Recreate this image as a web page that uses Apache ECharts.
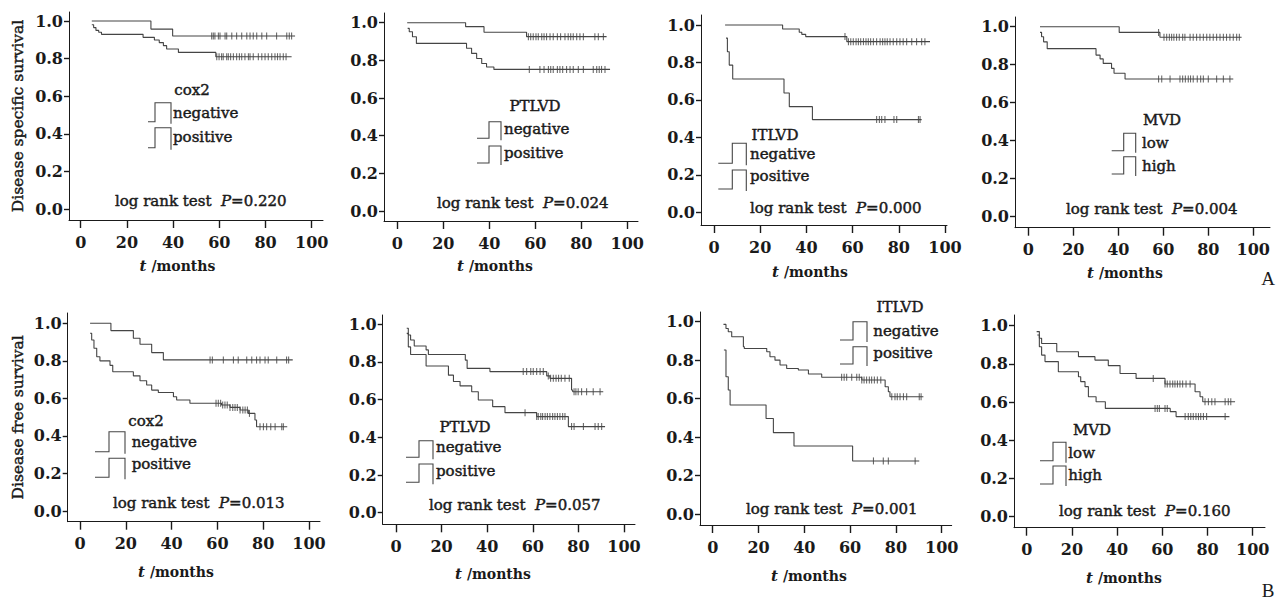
<!DOCTYPE html>
<html><head><meta charset="utf-8">
<script src="https://cdn.jsdelivr.net/npm/echarts@6/dist/echarts.min.js"></script>
<style>html,body{margin:0;padding:0;background:#fff}#c{width:1285px;height:601px}</style>
</head><body><div id="c"></div>
<script>
// ---------- DATA ----------
const xTicks = [0, 20, 40, 60, 80, 100];
const yTicks = [0.0, 0.2, 0.4, 0.6, 0.8, 1.0];
const yAxisNames = ['Disease specific survival', 'Disease free survival'];
const xAxisName = 'months';
const factors = ['cox2', 'PTLVD', 'ITLVD', 'MVD', 'cox2', 'PTLVD', 'ITLVD', 'MVD'];
const groupNames = [
  ['negative', 'positive'], ['negative', 'positive'], ['negative', 'positive'], ['low', 'high'],
  ['negative', 'positive'], ['negative', 'positive'], ['negative', 'positive'], ['low', 'high']
];
const pValues = ['0.220', '0.024', '0.000', '0.004', '0.013', '0.057', '0.001', '0.160'];
const panelLetters = ['A', 'B'];

// Kaplan-Meier curves: [month, survival] at each step, last point = end of follow-up
const dssCox2Neg = [[4.8,1.0],[30.4,0.957],[39.8,0.92],[92.8,0.92]];
const dssCox2NegCens = [56.7,57.4,58.1,59.6,60.3,62.5,63.2,65.4,67.5,69.7,71.9,73.3,74.7,76.2,78.4,80.5,84.8,89.2,90.3,91.3];
const dssCox2Pos = [[4.8,0.98],[5.6,0.965],[6.6,0.95],[7.8,0.94],[9.0,0.929],[27.0,0.913],[31.9,0.899],[34.0,0.885],[35.8,0.869],[37.2,0.851],[42.3,0.833],[58.5,0.81],[91.3,0.81]];
const dssCox2PosCens = [58.9,59.9,61.0,61.7,63.2,63.9,64.9,66.1,67.5,68.7,69.7,71.1,72.6,73.3,74.7,76.9,78.4,79.8,81.2,82.7,84.1,85.2,86.3,87.7,88.9];

const dssPtlvdNeg = [[4.3,1.0],[29.7,0.979],[37.7,0.949],[56.2,0.926],[91.0,0.926]];
const dssPtlvdNegCens = [57.0,58.0,59.1,60.3,61.3,62.8,63.8,64.9,66.4,67.8,69.6,71.0,72.9,74.3,75.4,76.5,78.0,79.4,80.9,85.9,87.4,89.6];
const dssPtlvdPos = [[4.5,0.97],[5.2,0.952],[6.6,0.925],[8.3,0.89],[30.1,0.864],[32.3,0.837],[34.5,0.81],[36.7,0.783],[38.8,0.765],[42.0,0.752],[92.5,0.752]];
const dssPtlvdPosCens = [57.4,62.0,63.8,65.7,66.7,67.8,69.6,70.7,71.9,73.6,75.1,76.5,78.7,80.9,85.2,86.7,87.8,88.8,90.3];

const dssItlvdNeg = [[4.8,1.0],[29.7,0.979],[36.9,0.961],[38.0,0.95],[39.7,0.938],[57.5,0.911],[93.5,0.911]];
const dssItlvdNegCens = [56.7,58.2,59.2,60.3,61.5,62.5,63.5,64.7,65.8,66.8,67.8,69.0,70.4,71.9,73.0,74.0,75.0,76.2,77.6,79.1,80.5,81.9,83.4,85.6,87.7,89.9,91.3];
const dssItlvdPos = [[5.2,0.93],[5.8,0.857],[6.6,0.786],[8.1,0.712],[30.3,0.637],[32.6,0.564],[42.6,0.495],[89.9,0.495]];
const dssItlvdPosCens = [70.4,71.6,72.6,74.0,77.9,79.1,88.5,89.2];

const dssMvdLow = [[5.2,1.0],[40.4,0.97],[58.5,0.944],[94.8,0.944]];
const dssMvdLowCens = [57.9,60.3,61.5,62.7,63.7,64.7,65.9,67.1,68.6,69.6,71.9,73.3,74.8,76.3,77.8,79.3,80.7,82.2,83.7,85.2,86.7,88.1,89.6,91.1,92.6,93.8];
const dssMvdHigh = [[5.2,0.97],[5.9,0.947],[6.8,0.92],[8.4,0.884],[30.1,0.85],[31.9,0.83],[33.3,0.806],[37.0,0.78],[38.1,0.754],[43.0,0.724],[91.1,0.724]];
const dssMvdHighCens = [57.9,59.3,63.0,67.4,68.6,69.8,71.1,72.1,73.3,75.1,76.6,77.8,80.0,83.7,86.7,89.6];

const dfsCox2Neg = [[4.4,1.0],[13.5,0.961],[23.3,0.92],[26.2,0.888],[31.3,0.844],[36.4,0.805],[92.9,0.805]];
const dfsCox2NegCens = [56.8,57.8,62.6,67.0,69.1,72.8,75.0,77.1,78.6,80.8,82.2,85.9,90.2,91.1];
const dfsCox2Pos = [[4.4,0.947],[5.1,0.911],[6.1,0.867],[7.3,0.822],[8.7,0.8],[13.1,0.776],[14.3,0.742],[23.3,0.72],[26.2,0.694],[29.1,0.671],[31.3,0.644],[34.2,0.631],[40.8,0.609],[42.2,0.591],[48.0,0.574],[61.8,0.565],[65.5,0.552],[69.9,0.538],[73.5,0.52],[76.4,0.485],[77.1,0.449],[90.5,0.449]];
const dfsCox2PosCens = [59.4,60.4,61.4,62.3,63.3,64.3,65.5,66.7,67.7,68.7,69.9,71.1,72.1,73.1,74.0,78.6,80.1,81.5,83.3,85.2,88.1,88.8];

const dfsPtlvdNeg = [[4.7,0.979],[5.4,0.943],[6.4,0.917],[8.0,0.885],[13.2,0.864],[14.2,0.84],[30.4,0.81],[31.2,0.766],[41.2,0.749],[66.1,0.726],[67.5,0.713],[77.0,0.651],[77.5,0.642],[90.9,0.642]];
const dfsPtlvdNegCens = [55.8,57.3,59.1,60.2,61.7,63.2,64.6,66.8,67.8,69.0,70.2,71.3,72.5,74.1,76.0,78.1,78.9,79.9,81.4,83.6,86.5,89.5];
const dfsPtlvdPos = [[4.7,0.952],[5.4,0.88],[6.4,0.84],[13.2,0.779],[23.0,0.73],[25.2,0.696],[28.1,0.673],[33.2,0.642],[36.1,0.598],[42.4,0.563],[47.8,0.531],[61.7,0.51],[75.6,0.457],[91.7,0.457]];
const dfsPtlvdPosCens = [56.6,61.7,62.4,63.5,64.3,65.4,66.4,67.5,68.7,69.7,70.8,71.9,73.1,74.1,77.0,78.1,82.2,87.3,88.7,90.2];

const dfsItlvdNeg = [[4.7,0.986],[5.8,0.965],[6.8,0.948],[8.3,0.922],[13.4,0.87],[13.8,0.861],[23.6,0.844],[25.0,0.818],[27.2,0.8],[29.4,0.775],[32.3,0.757],[37.4,0.749],[41.8,0.728],[47.6,0.711],[65.1,0.697],[75.3,0.662],[76.7,0.636],[77.4,0.61],[92.0,0.61]];
const dfsItlvdNegCens = [56.3,57.4,58.5,60.7,62.9,64.0,65.1,66.1,67.2,68.4,69.4,70.6,71.9,73.4,78.2,79.6,80.6,81.8,83.3,84.7,90.2,91.0];
const dfsItlvdPos = [[4.9,0.853],[5.8,0.714],[6.8,0.645],[7.6,0.567],[23.3,0.497],[26.5,0.423],[35.5,0.354],[61.1,0.276],[90.2,0.276]];
const dfsItlvdPosCens = [70.2,74.5,76.7,88.4];

const dfsMvdLow = [[4.4,0.969],[5.6,0.934],[6.6,0.907],[13.3,0.864],[22.9,0.838],[30.2,0.82],[36.1,0.791],[41.3,0.75],[48.4,0.724],[61.2,0.695],[74.5,0.654],[76.7,0.628],[77.9,0.602],[92.2,0.602]];
const dfsMvdLowCens = [56.0,61.2,62.2,63.4,64.6,65.6,66.7,67.8,69.0,70.5,72.3,78.9,80.4,81.9,83.3,87.8,89.2,90.3];
const dfsMvdHigh = [[4.7,0.951],[5.6,0.89],[6.6,0.846],[8.1,0.812],[14.0,0.759],[22.9,0.733],[23.9,0.707],[25.8,0.681],[27.3,0.628],[30.7,0.602],[34.8,0.567],[63.5,0.55],[66.1,0.524],[89.7,0.524]];
const dfsMvdHighCens = [56.8,57.8,58.7,61.2,62.2,70.1,71.5,72.6,73.7,74.9,76.0,77.0,78.2,79.6,87.8];

const curves = [
  [dssCox2Neg, dssCox2Pos], [dssPtlvdNeg, dssPtlvdPos], [dssItlvdNeg, dssItlvdPos], [dssMvdLow, dssMvdHigh],
  [dfsCox2Neg, dfsCox2Pos], [dfsPtlvdNeg, dfsPtlvdPos], [dfsItlvdNeg, dfsItlvdPos], [dfsMvdLow, dfsMvdHigh]
];
const censors = [
  [dssCox2NegCens, dssCox2PosCens], [dssPtlvdNegCens, dssPtlvdPosCens], [dssItlvdNegCens, dssItlvdPosCens], [dssMvdLowCens, dssMvdHighCens],
  [dfsCox2NegCens, dfsCox2PosCens], [dfsPtlvdNegCens, dfsPtlvdPosCens], [dfsItlvdNegCens, dfsItlvdPosCens], [dfsMvdLowCens, dfsMvdHighCens]
];

// ---------- LAYOUT (pixels) ----------
const layout = [
  {axL:69,   axR:323,   axTop:12,  axBot:220,   x0:80.7,   x100:311.7,  y1:21,    y0:209,   nameX:177.5, nameY:267},
  {axL:384,  axR:638,   axTop:13,  axBot:221,   x0:397.3,  x100:627.3,  y1:22.7,  y0:211,   nameX:495,   nameY:267},
  {axL:701,  axR:947,   axTop:15,  axBot:225,   x0:714,    x100:945,    y1:25,    y0:212.3, nameX:810,   nameY:273},
  {axL:1015, axR:1270,  axTop:17,  axBot:227.7, x0:1028.3, x100:1253.3, y1:26.7,  y0:216,   nameX:1125,  nameY:274},
  {axL:67.7, axR:320,   axTop:313, axBot:521.7, x0:80,     x100:309,    y1:323.3, y0:511,   nameX:176,   nameY:573},
  {axL:382.7,axR:635,   axTop:315, axBot:524.3, x0:396,    x100:624,    y1:324.3, y0:512.7, nameX:493,   nameY:575},
  {axL:700,  axR:951.7, axTop:312, axBot:525,   x0:712.7,  x100:941.7,  y1:321.7, y0:514,   nameX:809,   nameY:577},
  {axL:1014, axR:1265,  axTop:315, axBot:527.7, x0:1026.7, x100:1252.7, y1:325.7, y0:516.7, nameX:1124,  nameY:579}
];
const legendLayout = [
  {tx:192,  ty:90,  ix:148,    low:7,  iw:23, r:[[102.7,121.7],[127.7,147.7]], lx:173,    ly:[113,137]},
  {tx:535,  ty:106, ix:477,    low:12, iw:24, r:[[121.7,138.3],[146,163]],     lx:504,    ly:[129,153]},
  {tx:775,  ty:135, ix:718.3,  low:14, iw:28, r:[[143.3,163.3],[170,189]],     lx:750,    ly:[154,176]},
  {tx:1162, ty:120, ix:1111.7, low:12, iw:24, r:[[133.3,150.7],[156.7,174]],   lx:1142,   ly:[143,166]},
  {tx:146,  ty:421, ix:95,     low:14, iw:30, r:[[431.7,451.7],[458.3,477.3]], lx:131.7,  ly:[442.3,464.3]},
  {tx:465,  ty:427, ix:406,    low:13, iw:27, r:[[440.7,457.3],[464,482.3]],   lx:436,    ly:[447,471]},
  {tx:900,  ty:307, ix:840,    low:13, iw:27, r:[[321.7,340],[346.7,364]],     lx:873.3,  ly:[331,353]},
  {tx:1092, ty:430, ix:1040,   low:13, iw:26, r:[[442.3,460.7],[466,484]],     lx:1068.3, ly:[453,475]}
];
const logRankPos = [[115,201],[437,203],[750,208],[1066,209],[113,503],[429,505],[746,509],[1059,511]];
const letterPos = [[1268,278],[1268,590]];

// ---------- BUILD ----------
const FONT = 'DejaVu Serif';
const LINE = '#454545';
const INK = '#1a1a1a';
const TXT = '15px "' + FONT + '"';
const HALO = 0.45;

function survAt(curve, t) {
  let s = curve[0][1];
  for (const p of curve) { if (p[0] <= t) s = p[1]; }
  return s;
}

const grids = [], xAxes = [], yAxes = [], series = [], graphics = [];
layout.forEach((L, i) => {
  const xs = 100 / (L.x100 - L.x0);
  const xmin = (L.axL - L.x0) * xs, xmax = (L.axR - L.x0) * xs;
  const ys = 1 / (L.y0 - L.y1);
  const ymin = (L.y0 - L.axBot) * ys, ymax = (L.y0 - L.axTop) * ys;
  grids.push({left: L.axL, top: L.axTop, width: L.axR - L.axL, height: L.axBot - L.axTop, containLabel: false, outerBoundsMode: 'none'});
  const axisMid = (L.axL + L.axR) / 2;
  const shift = axisMid - L.nameX;
  xAxes.push({
    gridIndex: i, type: 'value', min: xmin, max: xmax,
    axisLine: {show: true, onZero: false, lineStyle: {color: INK, width: 1}},
    axisTick: {show: true, length: 8, customValues: xTicks, lineStyle: {color: INK, width: 1.4}},
    axisLabel: {customValues: xTicks, fontFamily: FONT, fontWeight: 'bold', fontSize: 16, color: INK, margin: 14},
    splitLine: {show: false},
    name: '{i|t}{r| /' + xAxisName + '}', nameLocation: 'middle', nameGap: L.nameY - L.axBot - 9,
    nameMoveOverlap: false,
    nameTextStyle: {padding: [0, shift > 0 ? 2 * shift : 0, 0, shift < 0 ? -2 * shift : 0],
      rich: {i: {fontFamily: FONT, fontStyle: 'italic', fontWeight: 'bold', fontSize: 15, color: INK},
             r: {fontFamily: FONT, fontWeight: 'bold', fontSize: 14, color: INK}}}
  });
  const yAx = {
    gridIndex: i, type: 'value', min: ymin, max: ymax,
    axisLine: {show: true, onZero: false, lineStyle: {color: INK, width: 1}},
    axisTick: {show: true, length: 5, customValues: yTicks, lineStyle: {color: INK, width: 1.4}},
    axisLabel: {customValues: yTicks, formatter: v => v.toFixed(1), fontFamily: FONT, fontWeight: 'bold', fontSize: 16, color: INK, margin: 6},
    splitLine: {show: false}
  };
  if (i % 4 === 0) {
    Object.assign(yAx, {name: yAxisNames[i / 4], nameLocation: 'middle', nameGap: L.axL - 17 - 9, nameMoveOverlap: false,
      nameTextStyle: {fontFamily: FONT, fontSize: 15.5, color: INK, textBorderColor: INK, textBorderWidth: HALO}});
  }
  yAxes.push(yAx);

  curves[i].forEach((c, k) => {
    series.push({
      type: 'line', name: groupNames[i][k], xAxisIndex: i, yAxisIndex: i, step: 'end',
      data: c, showSymbol: false, symbol: 'none', lineStyle: {color: LINE, width: 1.1}, silent: true
    });
    series.push({
      type: 'scatter', name: groupNames[i][k] + ' censored', xAxisIndex: i, yAxisIndex: i,
      data: censors[i][k].map(t => [t, survAt(c, t)]),
      symbol: 'rect', symbolSize: [1.1, 7], itemStyle: {color: LINE}, silent: true
    });
  });

  const G = legendLayout[i];
  graphics.push({type: 'text', style: {text: factors[i], x: G.tx, y: G.ty, align: 'center', verticalAlign: 'middle',
    font: TXT, fill: INK, stroke: INK, lineWidth: HALO}});
  [0, 1].forEach(k => {
    const top = G.r[k][0], bot = G.r[k][1];
    graphics.push({type: 'polyline', shape: {points: [[G.ix, bot], [G.ix + G.low, bot], [G.ix + G.low, top], [G.ix + G.iw, top], [G.ix + G.iw, bot + 2]]},
      style: {stroke: LINE, fill: null, lineWidth: 1.1}});
    graphics.push({type: 'text', style: {text: groupNames[i][k], x: G.lx, y: G.ly[k], align: 'left', verticalAlign: 'middle',
      font: TXT, fill: INK, stroke: INK, lineWidth: HALO}});
  });
  const P = logRankPos[i];
  graphics.push({type: 'text', style: {
    text: '{a|log rank test  }{p|P}{a|=' + pValues[i] + '}', x: P[0], y: P[1], align: 'left', verticalAlign: 'middle',
    rich: {a: {fontFamily: FONT, fontSize: 15, fill: INK, stroke: INK, lineWidth: HALO},
           p: {fontFamily: FONT, fontSize: 15, fontStyle: 'italic', fill: INK, stroke: INK, lineWidth: HALO}}
  }});
});
panelLetters.forEach((t, j) => {
  graphics.push({type: 'text', style: {text: t, x: letterPos[j][0], y: letterPos[j][1], align: 'center', verticalAlign: 'middle',
    font: '19px "Liberation Serif"', fill: INK}});
});

const chart = echarts.init(document.getElementById('c'), null, {renderer: 'svg'});
chart.setOption({
  animation: false,
  backgroundColor: '#ffffff',
  grid: grids, xAxis: xAxes, yAxis: yAxes, series: series, graphic: graphics
});
</script>
</body></html>
